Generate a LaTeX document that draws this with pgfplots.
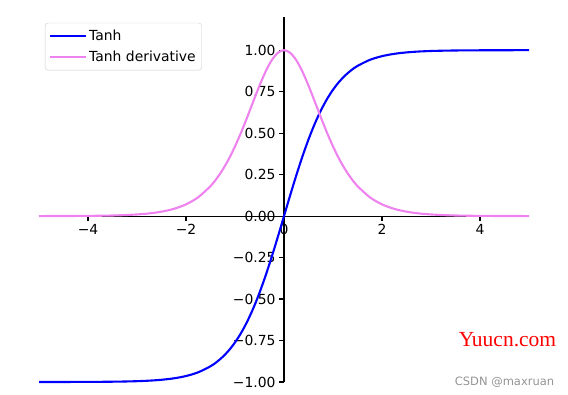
\documentclass[border=0pt]{standalone}
\usepackage{pgfplots}
\pgfplotsset{compat=1.18}
\usepackage{pgfplotstable}
\usepackage{fontspec}
\setmainfont{DejaVu Sans}
\newfontfamily\wmserif{Liberation Serif}
\pgfplotstableread{
x t d
-5.0 -0.9999 0.0002
-4.75 -0.9999 0.0003
-4.5 -0.9998 0.0005
-4.25 -0.9996 0.0008
-4.0 -0.9993 0.0013
-3.75 -0.9989 0.0022
-3.5 -0.9982 0.0036
-3.25 -0.9970 0.0060
-3.0 -0.9951 0.0099
-2.75 -0.9919 0.0161
-2.5 -0.9866 0.0266
-2.25 -0.9780 0.0435
-2.0 -0.9640 0.0707
-1.75 -0.9414 0.1138
-1.5 -0.9051 0.1807
-1.375 -0.8798 0.2259
-1.25 -0.8483 0.2804
-1.125 -0.8093 0.3450
-1.0 -0.7616 0.4200
-0.875 -0.7039 0.5045
-0.75 -0.6351 0.5966
-0.625 -0.5546 0.6924
-0.5 -0.4621 0.7864
-0.375 -0.3584 0.8715
-0.25 -0.2449 0.9400
-0.125 -0.1244 0.9845
0.0 0.0 1.0
0.125 0.1244 0.9845
0.25 0.2449 0.9400
0.375 0.3584 0.8715
0.5 0.4621 0.7864
0.625 0.5546 0.6924
0.75 0.6351 0.5966
0.875 0.7039 0.5045
1.0 0.7616 0.4200
1.125 0.8093 0.3450
1.25 0.8483 0.2804
1.375 0.8798 0.2259
1.5 0.9051 0.1807
1.75 0.9414 0.1138
2.0 0.9640 0.0707
2.25 0.9780 0.0435
2.5 0.9866 0.0266
2.75 0.9919 0.0161
3.0 0.9951 0.0099
3.25 0.9970 0.0060
3.5 0.9982 0.0036
3.75 0.9989 0.0022
4.0 0.9993 0.0013
4.25 0.9996 0.0008
4.5 0.9998 0.0005
4.75 0.9999 0.0003
5.0 0.9999 0.0002
}\datatable
\definecolor{violetmpl}{RGB}{238,130,238}
\begin{document}
\begin{tikzpicture}[x=1pt,y=1pt]
\useasboundingbox (0,0) rectangle (568,394);
\begin{axis}[
  at={(39pt,12pt)}, anchor=south west,
  scale only axis, width=490pt, height=365pt,
  xmin=-5, xmax=5, ymin=-1, ymax=1.2,
  axis lines=middle,
  axis line style={-, line width=1.1pt, black},
  hide obscured x ticks=false, hide obscured y ticks=false,
  xtick={-4,-2,0,2,4},
  xticklabels={−4,−2,0,2,4},
  ytick={-1,-0.75,-0.5,-0.25,0,0.25,0.5,0.75,1},
  yticklabels={−1.00,−0.75,−0.50,−0.25,0.00,0.25,0.50,0.75,1.00},
  tick align=outside,
  major tick length=4.9pt,
  tick style={line width=1.1pt, black},
  tick label style={font=\fontsize{13.9}{16}\selectfont},
  legend cell align=left,
  legend style={at={(0.012,0.984)}, anchor=north west,
    draw=black!20, rounded corners=3pt, fill=white, fill opacity=0.8, text opacity=1,
    font=\fontsize{13.9}{16}\selectfont, inner xsep=4pt, inner ysep=5pt, row sep=5pt},
  legend image code/.code={\draw[#1] (0pt,0pt) -- (26pt,0pt); \path (0pt,0pt) -- (36pt,0pt);},
  clip=false,
]
\addplot[blue, line width=2.1pt, smooth] table[x=x,y=t] {\datatable};
\addlegendentry{Tanh}
\addplot[violetmpl, line width=2.1pt, smooth] table[x=x,y=d] {\datatable};
\addlegendentry{Tanh derivative}
\end{axis}
\node[anchor=center, text=red, font=\wmserif\fontsize{21.5}{24}\selectfont] at (507.5,54) {Yuucn.com};
\node[anchor=center, text=black!42, font=\fontsize{11.5}{13}\selectfont] at (504.5,12) {CSDN @maxruan};
\end{tikzpicture}
\end{document}
